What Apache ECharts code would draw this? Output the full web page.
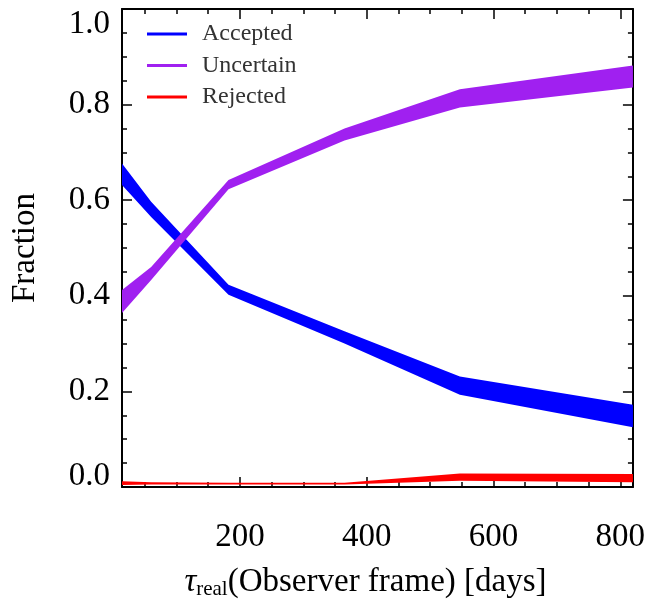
<!DOCTYPE html>
<html>
<head>
<meta charset="utf-8">
<script src="https://cdn.jsdelivr.net/npm/echarts@6/dist/echarts.min.js"></script>
<style>
html,body{margin:0;padding:0;background:#fff;}
#chart{width:648px;height:605px;}
</style>
</head>
<body>
<div id="chart"></div>
<script>
// ---- data ----
const xDays = [14, 60, 182, 365, 547, 820];
const acceptedLow  = [0.632, 0.565, 0.402, 0.300, 0.193, 0.125];
const acceptedHigh = [0.677, 0.597, 0.423, 0.326, 0.231, 0.172];
const uncertainLow  = [0.364, 0.433, 0.623, 0.725, 0.794, 0.836];
const uncertainHigh = [0.412, 0.460, 0.642, 0.750, 0.832, 0.882];
const rejectedLow  = [0.004, 0.005, 0.005, 0.005, 0.013, 0.010];
const rejectedHigh = [0.012, 0.010, 0.009, 0.009, 0.028, 0.027];
const seriesNames = ['Accepted', 'Uncertain', 'Rejected'];
const seriesColors = ['#0000ff', '#a020f0', '#ff0000'];
const yTicks = [0, 0.2, 0.4, 0.6, 0.8, 1.0];

const FONT = '"Liberation Serif", "DejaVu Serif", serif';

function bandSeries(name, color, lo, hi) {
  const rows = xDays.map((x, i) => [x, lo[i], hi[i]]);
  return {
    type: 'custom',
    name: name,
    coordinateSystem: 'cartesian2d',
    itemStyle: { color: color },
    encode: { x: 0, y: [1, 2] },
    data: rows,
    renderItem: function (params, api) {
      if (params.dataIndex !== 0) return;
      const pts = [];
      for (let i = 0; i < rows.length; i++) pts.push(api.coord([rows[i][0], rows[i][2]]));
      for (let i = rows.length - 1; i >= 0; i--) pts.push(api.coord([rows[i][0], rows[i][1]]));
      return { type: 'polygon', shape: { points: pts }, style: { fill: color } };
    }
  };
}

const axisCommon = {
  type: 'value',
  axisLine: { show: true, onZero: false, lineStyle: { color: '#000', width: 2 } },
  axisTick: { show: true, inside: true, length: 10, lineStyle: { color: '#000', width: 1.5 } },
  minorTick: { show: true, splitNumber: 4, length: 5, lineStyle: { color: '#000', width: 1.5 } },
  splitLine: { show: false },
  minorSplitLine: { show: false }
};

const yMin = yTicks[0], yMax = yTicks[yTicks.length - 1];

const chart = echarts.init(document.getElementById('chart'), null, { renderer: 'canvas' });
chart.setOption({
  backgroundColor: '#fff',
  animation: false,
  grid: { left: 122, right: 15, top: 9, bottom: 118, containLabel: false },
  legend: {
    orient: 'vertical',
    left: 142,
    top: 17,
    itemWidth: 40,
    itemHeight: 3,
    itemGap: 7.5,
    icon: 'rect',
    data: seriesNames,
    textStyle: { fontFamily: FONT, fontSize: 24, lineHeight: 24, color: '#333', padding: [0, 0, 0, 10] }
  },
  xAxis: [
    Object.assign({}, axisCommon, {
      position: 'bottom',
      min: 14, max: 820,
      axisLabel: {
        show: true, showMinLabel: false, showMaxLabel: false,
        margin: 34, fontFamily: FONT, fontSize: 33, color: '#000'
      },
      name: '{t|τ}{s|real}{n|(Observer frame) [days]}',
      nameLocation: 'middle',
      nameGap: 78,
      nameTextStyle: {
        fontFamily: FONT, fontSize: 33, color: '#000',
        padding: [0, 24, 0, 0],
        rich: {
          t: { fontFamily: FONT, fontSize: 33, fontStyle: 'italic', color: '#000' },
          s: { fontFamily: FONT, fontSize: 21, color: '#000', padding: [14, 0, 0, 0] },
          n: { fontFamily: FONT, fontSize: 33, color: '#000' }
        }
      }
    }),
    Object.assign({}, axisCommon, {
      position: 'top',
      min: 14, max: 820,
      axisLabel: { show: false }
    })
  ],
  yAxis: [
    Object.assign({}, axisCommon, {
      position: 'left',
      min: yMin, max: yMax, interval: 0.2,
      axisLabel: {
        show: true, margin: 12, fontFamily: FONT, fontSize: 33, color: '#000',
        formatter: function (v) {
          const s = v.toFixed(1);
          if (Math.abs(v - yMax) < 1e-9) return '{top|' + s + '}';
          if (Math.abs(v - yMin) < 1e-9) return '{bot|' + s + '}';
          return s;
        },
        rich: {
          top: { fontFamily: FONT, fontSize: 33, color: '#000', padding: [30, 0, 0, 0] },
          bot: { fontFamily: FONT, fontSize: 33, color: '#000', padding: [0, 0, 22, 0] }
        }
      },
      name: 'Fraction',
      nameLocation: 'middle',
      nameGap: 80,
      nameTextStyle: { fontFamily: FONT, fontSize: 33, color: '#000' }
    }),
    Object.assign({}, axisCommon, {
      position: 'right',
      min: 0, max: 1, interval: 0.2,
      axisLabel: { show: false }
    })
  ],
  series: [
    bandSeries(seriesNames[0], seriesColors[0], acceptedLow, acceptedHigh),
    bandSeries(seriesNames[1], seriesColors[1], uncertainLow, uncertainHigh),
    bandSeries(seriesNames[2], seriesColors[2], rejectedLow, rejectedHigh)
  ]
});
</script>
</body>
</html>
